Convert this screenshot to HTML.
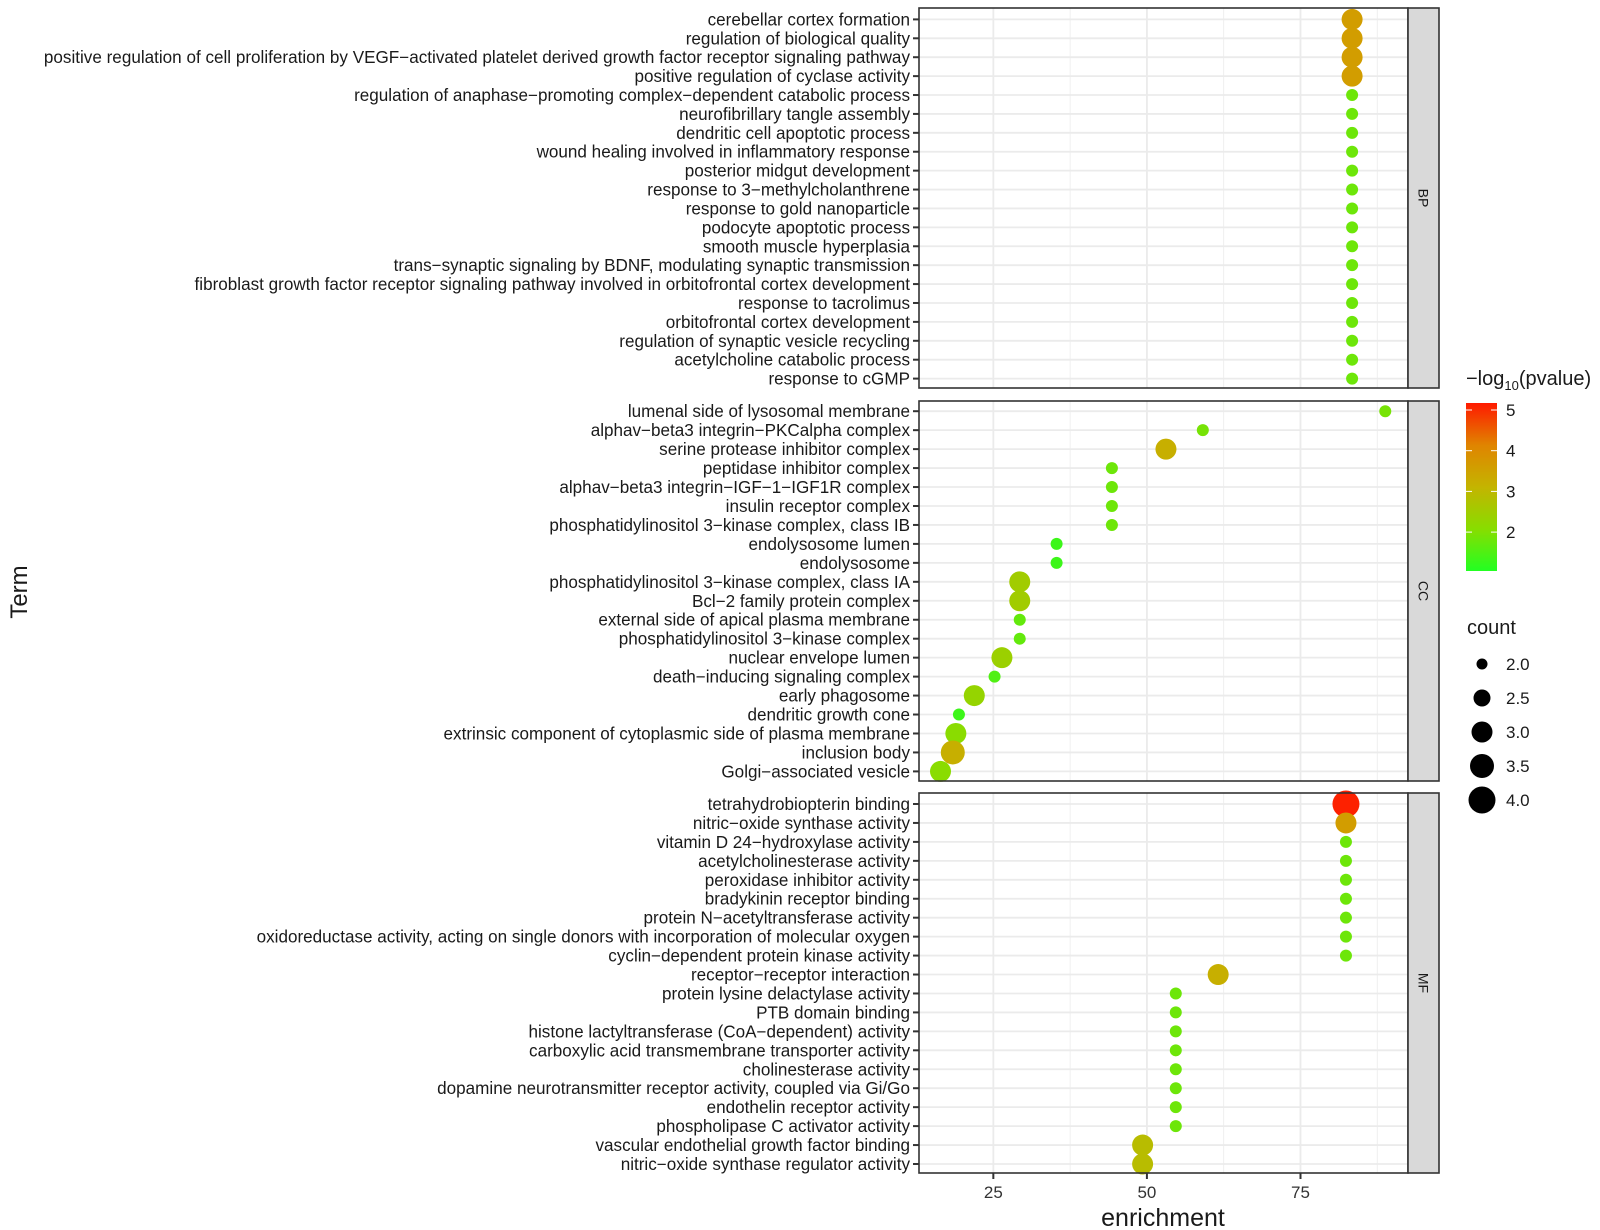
<!DOCTYPE html>
<html><head><meta charset="utf-8"><style>
body{margin:0;background:#fff;}
svg{display:block;font-family:"Liberation Sans",sans-serif;}
</style></head><body>
<svg id="chart" width="1600" height="1230" viewBox="0 0 1600 1230">
<defs><linearGradient id="cgrad" x1="0" y1="1" x2="0" y2="0">
<stop offset="0" stop-color="#22ff22"/><stop offset="0.25" stop-color="#88dd00"/><stop offset="0.5" stop-color="#c4b400"/><stop offset="0.75" stop-color="#e08400"/><stop offset="1" stop-color="#ff1a00"/></linearGradient></defs>
</svg>
<script>
const bpTerms=["cerebellar cortex formation","regulation of biological quality","positive regulation of cell proliferation by VEGF\u2212activated platelet derived growth factor receptor signaling pathway","positive regulation of cyclase activity","regulation of anaphase\u2212promoting complex\u2212dependent catabolic process","neurofibrillary tangle assembly","dendritic cell apoptotic process","wound healing involved in inflammatory response","posterior midgut development","response to 3\u2212methylcholanthrene","response to gold nanoparticle","podocyte apoptotic process","smooth muscle hyperplasia","trans\u2212synaptic signaling by BDNF, modulating synaptic transmission","fibroblast growth factor receptor signaling pathway involved in orbitofrontal cortex development","response to tacrolimus","orbitofrontal cortex development","regulation of synaptic vesicle recycling","acetylcholine catabolic process","response to cGMP"];
const bpEnrich=[83.4,83.4,83.4,83.4,83.4,83.4,83.4,83.4,83.4,83.4,83.4,83.4,83.4,83.4,83.4,83.4,83.4,83.4,83.4,83.4];
const bpCount=[3,3,3,3,2,2,2,2,2,2,2,2,2,2,2,2,2,2,2,2];
const bpP=[3.6,3.6,3.6,3.6,1.8,1.8,1.8,1.8,1.8,1.8,1.8,1.8,1.8,1.8,1.8,1.8,1.8,1.8,1.8,1.8];
const ccTerms=["lumenal side of lysosomal membrane","alphav\u2212beta3 integrin\u2212PKCalpha complex","serine protease inhibitor complex","peptidase inhibitor complex","alphav\u2212beta3 integrin\u2212IGF\u22121\u2212IGF1R complex","insulin receptor complex","phosphatidylinositol 3\u2212kinase complex, class IB","endolysosome lumen","endolysosome","phosphatidylinositol 3\u2212kinase complex, class IA","Bcl\u22122 family protein complex","external side of apical plasma membrane","phosphatidylinositol 3\u2212kinase complex","nuclear envelope lumen","death\u2212inducing signaling complex","early phagosome","dendritic growth cone","extrinsic component of cytoplasmic side of plasma membrane","inclusion body","Golgi\u2212associated vesicle"];
const ccEnrich=[88.8,59.1,53.1,44.3,44.3,44.3,44.3,35.3,35.3,29.3,29.3,29.3,29.3,26.4,25.2,21.9,19.4,18.9,18.4,16.4];
const ccCount=[2,2,3,2,2,2,2,2,2,3,3,2,2,3,2,3,2,3,3.5,3];
const ccP=[1.9,1.9,3.2,1.8,1.8,1.8,1.8,1.3,1.3,2.5,2.5,1.7,1.7,2.4,1.5,2.3,1.3,2.1,3.2,2.1];
const mfTerms=["tetrahydrobiopterin binding","nitric\u2212oxide synthase activity","vitamin D 24\u2212hydroxylase activity","acetylcholinesterase activity","peroxidase inhibitor activity","bradykinin receptor binding","protein N\u2212acetyltransferase activity","oxidoreductase activity, acting on single donors with incorporation of molecular oxygen","cyclin\u2212dependent protein kinase activity","receptor\u2212receptor interaction","protein lysine delactylase activity","PTB domain binding","histone lactyltransferase (CoA\u2212dependent) activity","carboxylic acid transmembrane transporter activity","cholinesterase activity","dopamine neurotransmitter receptor activity, coupled via Gi/Go","endothelin receptor activity","phospholipase C activator activity","vascular endothelial growth factor binding","nitric\u2212oxide synthase regulator activity"];
const mfEnrich=[82.4,82.4,82.4,82.4,82.4,82.4,82.4,82.4,82.4,61.6,54.7,54.7,54.7,54.7,54.7,54.7,54.7,54.7,49.3,49.3];
const mfCount=[4,3,2,2,2,2,2,2,2,3,2,2,2,2,2,2,2,2,3,3];
const mfP=[5.1,3.6,1.8,1.8,1.8,1.8,1.8,1.8,1.8,3.2,1.8,1.8,1.8,1.8,1.8,1.8,1.8,1.8,2.9,2.9];
const xTicks=[25,50,75];
const xMinor=[37.5,62.5,87.5];
const colorTicks=[2,3,4,5];
const countTicks=[2.0,2.5,3.0,3.5,4.0];

const NS="http://www.w3.org/2000/svg";
const svg=document.getElementById('chart');
function mk(tag,attrs,parent){const e=document.createElementNS(NS,tag);for(const k in attrs)e.setAttribute(k,attrs[k]);(parent||svg).appendChild(e);return e;}
const X0=919,X1=1408,XMIN=12.9,XMAX=92.5;
function xs(v){return X0+(v-XMIN)/(XMAX-XMIN)*(X1-X0);}
function rs(c){const pts=[[2,6],[2.5,8.5],[3,10.5],[3.5,12],[4,13.5]];for(let i=0;i<pts.length-1;i++){if(c<=pts[i+1][0]){const t=(c-pts[i][0])/(pts[i+1][0]-pts[i][0]);return pts[i][1]+t*(pts[i+1][1]-pts[i][1]);}}return 13.5;}
const cst=[[1.04,[0x22,0xff,0x22]],[2.07,[0x88,0xdd,0x00]],[3.1,[0xc4,0xb4,0x00]],[4.13,[0xe0,0x84,0x00]],[5.17,[0xff,0x1a,0x00]]];
function cs(v){for(let i=0;i<cst.length-1;i++){if(v<=cst[i+1][0]){const t=Math.max(0,(v-cst[i][0])/(cst[i+1][0]-cst[i][0]));const a=cst[i][1],b=cst[i+1][1];return 'rgb('+a.map((q,j)=>Math.round(q+t*(b[j]-q))).join(',')+')';}}return 'rgb(255,26,0)';}

const panels=[
 {name:'BP',terms:bpTerms,en:bpEnrich,cnt:bpCount,p:bpP,top:8,bot:388,y0:19.4,y1:378.6},
 {name:'CC',terms:ccTerms,en:ccEnrich,cnt:ccCount,p:ccP,top:401,bot:781,y0:411.2,y1:771.4},
 {name:'MF',terms:mfTerms,en:mfEnrich,cnt:mfCount,p:mfP,top:793,bot:1173,y0:804,y1:1164}];
panels.forEach(P=>{
 const g=mk('g',{});
 
 
 const n=P.terms.length,step=(P.y1-P.y0)/(n-1);
 const ys=i=>P.y0+i*step;
 xMinor.forEach(v=>{const l=mk('line',{x1:xs(v),x2:xs(v),y1:P.top,y2:P.bot,stroke:'#ebebeb','stroke-width':0.8},g);});
 P.terms.forEach((t,i)=>{const l=mk('line',{x1:X0,x2:X1,y1:ys(i),y2:ys(i),stroke:'#ebebeb','stroke-width':1.8},g);});
 xTicks.forEach(v=>{const l=mk('line',{x1:xs(v),x2:xs(v),y1:P.top,y2:P.bot,stroke:'#ebebeb','stroke-width':1.8},g);});
 P.terms.forEach((t,i)=>{
  const tk=mk('line',{x1:X0-6,x2:X0,y1:ys(i),y2:ys(i),stroke:'#333','stroke-width':2},g);
  
  const tx=mk('text',{x:X0-9,y:ys(i)+6,'text-anchor':'end','font-size':17.1,fill:'#1a1a1a'},g);
  tx.textContent=t;
  
 });
 P.terms.forEach((t,i)=>{
  const c=mk('circle',{cx:xs(P.en[i]),cy:ys(i),r:rs(P.cnt[i]),fill:cs(P.p[i])},g);
  
  
 });
 const b=mk('rect',{x:X0,y:P.top,width:X1-X0,height:P.bot-P.top,fill:'none',stroke:'#333','stroke-width':1.6},g);
 
 const s=mk('rect',{x:X1,y:P.top,width:31,height:P.bot-P.top,fill:'#d9d9d9',stroke:'#333','stroke-width':1.6},g);
 
 const cy=(P.top+P.bot)/2,cx=X1+15.5;
 const st=mk('text',{x:cx,y:cy,'text-anchor':'middle','font-size':14,fill:'#1a1a1a',transform:'rotate(90 '+cx+' '+cy+')','dominant-baseline':'central'},g);
 st.textContent=P.name;
});
xTicks.forEach(v=>{
 const l=mk('line',{x1:xs(v),x2:xs(v),y1:1173,y2:1179,stroke:'#333','stroke-width':2});
 
 const t=mk('text',{x:xs(v),y:1198,'text-anchor':'middle','font-size':17,fill:'#333'});
 t.textContent=v;
});
</script>
<script>
(function(){
const svg=document.getElementById('chart');const NS="http://www.w3.org/2000/svg";
function mk(tag,attrs){const e=document.createElementNS(NS,tag);for(const k in attrs)e.setAttribute(k,attrs[k]);svg.appendChild(e);return e;}
let t=mk('text',{x:1163,y:1226,'text-anchor':'middle','font-size':25,fill:'#1a1a1a'});t.textContent='enrichment';

t=mk('text',{x:27,y:592,'text-anchor':'middle','font-size':24,fill:'#1a1a1a',transform:'rotate(-90 27 592)'});t.textContent='Term';

t=mk('text',{x:1466,y:385,'font-size':20,fill:'#1a1a1a'});
t.innerHTML='\u2212log<tspan font-size="13" dy="5">10</tspan><tspan dy="-5">(pvalue)</tspan>';

const cb=mk('rect',{x:1466,y:403,width:31,height:168,fill:'url(#cgrad)'});

colorTicks.forEach(v=>{const y=410+(5-v)*40.7;
 let l=mk('line',{x1:1466,x2:1472,y1:y,y2:y,stroke:'#fff','stroke-width':1});
 l=mk('line',{x1:1491,x2:1497,y1:y,y2:y,stroke:'#fff','stroke-width':1});
 const s=mk('text',{x:1506,y:y+6,'font-size':17,fill:'#1a1a1a'});s.textContent=v;
 });
t=mk('text',{x:1467,y:634,'font-size':20,fill:'#1a1a1a'});t.textContent='count';

const radii=[5.5,8.5,10.5,12,13.5];
countTicks.forEach((v,i)=>{const y=664+i*34;
 const c=mk('circle',{cx:1482,cy:y,r:radii[i],fill:'#000'});
 const s=mk('text',{x:1506,y:y+6,'font-size':17,fill:'#1a1a1a'});s.textContent=v.toFixed(1);
 });
})();
</script>
</body></html>
